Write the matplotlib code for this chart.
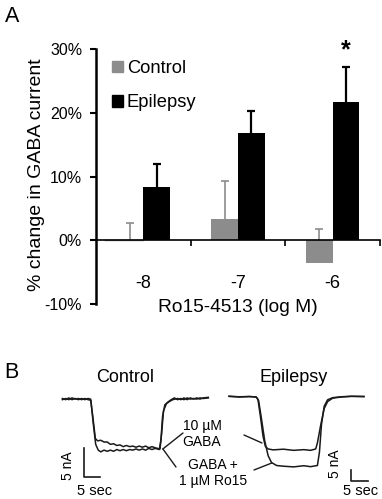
import matplotlib
matplotlib.use('Agg')
import matplotlib.pyplot as plt
from matplotlib.patches import Patch

plt.rcParams['font.family'] = ['Liberation Sans', 'DejaVu Sans']

# ---- panel A data (% change in GABA current)
doses = ['-8', '-7', '-6']
control = [0.0, 3.3, -3.5]
control_err = [2.7, 6.0, 5.2]
epilepsy = [8.3, 16.8, 21.7]
epilepsy_err = [3.7, 3.5, 5.4]

# ---- panel B traces (time in sec, current in nA)
ctl_gaba_t = [0, 1, 2, 3, 4, 5, 6, 7, 8, 8.8, 9.5, 10.3, 11, 12, 13, 14, 15, 16, 17, 18, 19, 20, 21, 22, 23, 24, 25, 26, 27, 28, 29, 30.5, 31, 31.6, 32.5, 33.5, 34.5, 36, 37, 38, 39, 40, 41, 42, 43, 44, 45.6]
ctl_gaba_i = [0.1, -0.1, 0.2, -0.1, 0.1, -0.1, 0.1, -0.1, 0.1, 0, -3, -6.8, -7.2, -7.1, -7.4, -7.4, -7.8, -7.7, -8.0, -7.9, -8.2, -8.0, -8.2, -8.1, -8.3, -8.1, -8.3, -8.1, -8.4, -8.2, -8.4, -8.6, -6, -2, -0.8, -0.4, -0.1, 0.1, -0.1, 0.2, -0.1, 0.2, 0.0, 0.2, 0.0, 0.2, 0.3]
ctl_ro15_t = [0, 1, 2, 3, 4, 5, 6, 7, 8, 8.9, 9.6, 10.4, 11.2, 12, 13, 14, 15, 16, 17, 18, 19, 20, 21, 22, 23, 24, 25, 26, 27, 28, 29, 30.3, 30.8, 31.3, 32, 33, 34, 35, 36, 37, 38, 39, 40, 41, 42, 43, 44, 45.6]
ctl_ro15_i = [-0.1, 0.1, -0.1, 0.2, 0, 0.1, -0.1, 0.1, -0.1, -0.2, -4, -7.8, -8.8, -9.1, -8.8, -9.0, -8.8, -9.0, -8.7, -8.9, -8.7, -8.9, -8.7, -8.8, -8.6, -8.8, -8.6, -8.8, -8.5, -8.7, -8.5, -8.7, -7, -3, -1, -0.5, -0.1, 0.2, -0.1, 0.1, -0.1, 0.2, 0.0, 0.1, 0.0, 0.2, 0.1, 0.2]
epi_gaba_t = [0, 3, 6, 8, 8.5, 9.2, 10, 10.7, 11.5, 13, 16, 19, 22, 24, 25.5, 26, 27, 28, 29, 30.5, 33, 36, 39.7]
epi_gaba_i = [0.3, 0, 0.2, 0, -1, -8, -17, -21.5, -22.6, -23, -22.7, -23.2, -22.9, -23.2, -22.6, -20, -12, -5, -2, -0.5, 0, 0.3, 0.2]
epi_ro15_t = [0, 3, 6, 8, 8.7, 9.5, 10.5, 11.5, 12.5, 14, 16, 19, 22, 24, 26, 26.6, 27.2, 28, 29, 30.5, 33, 36, 39.7]
epi_ro15_i = [0.3, 0.1, 0.2, 0, -1.5, -9, -19, -25.5, -28.5, -29.8, -30.1, -30.4, -29.9, -30.3, -29.8, -24, -12, -4, -1.2, -0.3, 0.1, 0.3, 0.2]
scale_sec = 5
scale_na = 5

W, H = 382, 499
def fpx(x, y):
	return (x / W, 1 - y / H)

fig = plt.figure(figsize=(W / 100, H / 100), dpi=100)

#################### Panel A ####################
ax = fig.add_axes([96 / W, 1 - 304 / H, 284 / W, 255 / H])
for s in ['top', 'right']:
	ax.spines[s].set_visible(False)
ax.spines['bottom'].set_position(('data', 0))
ax.spines['bottom'].set_linewidth(1.2)
ax.spines['left'].set_linewidth(1.8)

gray = '#8c8c8c'
x = range(len(doses))
xc = [i - 0.14 for i in x]
xe = [i + 0.14 for i in x]
ax.bar(xc, control, width=0.28, color=gray)
ax.bar(xe, epilepsy, width=0.28, color='black')
ctop = [v + e for v, e in zip(control, control_err)]
etop = [v + e for v, e in zip(epilepsy, epilepsy_err)]
ax.vlines(xc, control, ctop, color=gray, lw=1.2)
ax.plot(xc, ctop, ls='none', marker='_', ms=6, mew=1.2, color=gray)
ax.vlines(xe, epilepsy, etop, color='black', lw=1.6)
ax.plot(xe, etop, ls='none', marker='_', ms=6, mew=1.6, color='black')
ax.plot([-0.4, 0.0], [0, 0], color=gray, lw=1)

ax.set_xlim(-0.5, 2.5)
ax.set_ylim(-10, 30)
ax.set_yticks([-10, 0, 10, 20, 30])
ax.set_yticklabels(['-10%', '0%', '10%', '20%', '30%'])
ax.tick_params(axis='y', direction='out', length=4, width=1.5, pad=6, labelsize=11.5)
ax.set_xticks(list(x))
ax.set_xticklabels(doses)
ax.set_xticks([0.5, 1.5, 2.5], minor=True)
ax.tick_params(axis='x', which='major', length=0, pad=25, labelsize=13)
ax.tick_params(axis='x', which='minor', direction='out', length=4, width=1.2)
ax.set_xlabel('Ro15-4513 (log M)', fontsize=13.8, labelpad=5)
ax.set_ylabel('% change in GABA current', fontsize=14)
ax.yaxis.set_label_coords(-0.18, 0.506)

handles = [Patch(color=gray, label='Control'), Patch(color='black', label='Epilepsy')]
ax.legend(handles=handles, loc='upper left', bbox_to_anchor=fpx(112, 60), bbox_transform=fig.transFigure,
	frameon=False, fontsize=13.2, handlelength=0.6, handleheight=0.6, handletextpad=0.2,
	labelspacing=0.95, borderpad=0, borderaxespad=0)

fig.text(*fpx(346, 50), '*', fontsize=18, fontweight='bold', ha='center', va='center')
fig.text(*fpx(12, 16), 'A', fontsize=15.5, ha='center', va='center')

#################### Panel B ####################
fig.text(*fpx(11, 373), 'B', fontsize=15.5, ha='center', va='center')
fig.text(*fpx(125, 377), 'Control', fontsize=13, ha='center', va='center')
fig.text(*fpx(294, 377), 'Epilepsy', fontsize=13, ha='center', va='center')

tr = '#1a1a1a'
ax_c = fig.add_axes([56 / W, 1 - 500 / H, 153.6 / W, 110.2 / H])
ax_c.plot(ctl_gaba_t, ctl_gaba_i, color=tr, lw=1.1)
ax_c.plot(ctl_ro15_t, ctl_ro15_i, color=tr, lw=1.1)
ax_c.set_xlim(-2, 46)
ax_c.set_ylim(-17.4, 1.6)
ax_c.axis('off')
ax_c.plot([6.75, 6.75, 6.75 + scale_sec], [-8.45, -8.45 - scale_na, -8.45 - scale_na], color=tr, lw=1.2, clip_on=False)

ax_e = fig.add_axes([222.2 / W, 1 - 500 / H, 149.6 / W, 109.9 / H])
ax_e.plot(epi_gaba_t, epi_gaba_i, color=tr, lw=1.1)
ax_e.plot(epi_ro15_t, epi_ro15_i, color=tr, lw=1.1)
ax_e.set_xlim(-2, 42)
ax_e.set_ylim(-44.8, 3.0)
ax_e.axis('off')
ax_e.plot([35.9, 35.9, 35.9 + scale_sec], [-31.7, -31.7 - scale_na, -31.7 - scale_na], color=tr, lw=1.2, clip_on=False)

# labels / connector lines
lp = dict(arrowstyle='-', lw=1.0, color=tr, shrinkA=0, shrinkB=0)
ax_c.annotate('', xy=(31.4, -8.6), xytext=fpx(183, 433), textcoords='figure fraction', arrowprops=lp)
ax_c.annotate('', xy=(31.4, -8.6), xytext=fpx(176, 467), textcoords='figure fraction', arrowprops=lp)
ax_e.annotate('', xy=(9.7, -20), xytext=fpx(244, 435), textcoords='figure fraction', arrowprops=lp)
ax_e.annotate('', xy=(12.6, -28.7), xytext=fpx(254, 470), textcoords='figure fraction', arrowprops=lp)
fig.text(*fpx(202, 434), '10 \u00b5M\nGABA', fontsize=10, ha='center', va='center', linespacing=1.1)
fig.text(*fpx(213, 473), 'GABA +\n1 \u00b5M Ro15', fontsize=10, ha='center', va='center', linespacing=1.1)

fig.text(*fpx(68, 466), '5 nA', fontsize=10, rotation=90, ha='center', va='center')
fig.text(*fpx(95, 491), '5 sec', fontsize=10.5, ha='center', va='center')
fig.text(*fpx(335, 464), '5 nA', fontsize=10, rotation=90, ha='center', va='center')
fig.text(*fpx(361, 491), '5 sec', fontsize=10.5, ha='center', va='center')

fig.savefig('out.png', dpi=100)
